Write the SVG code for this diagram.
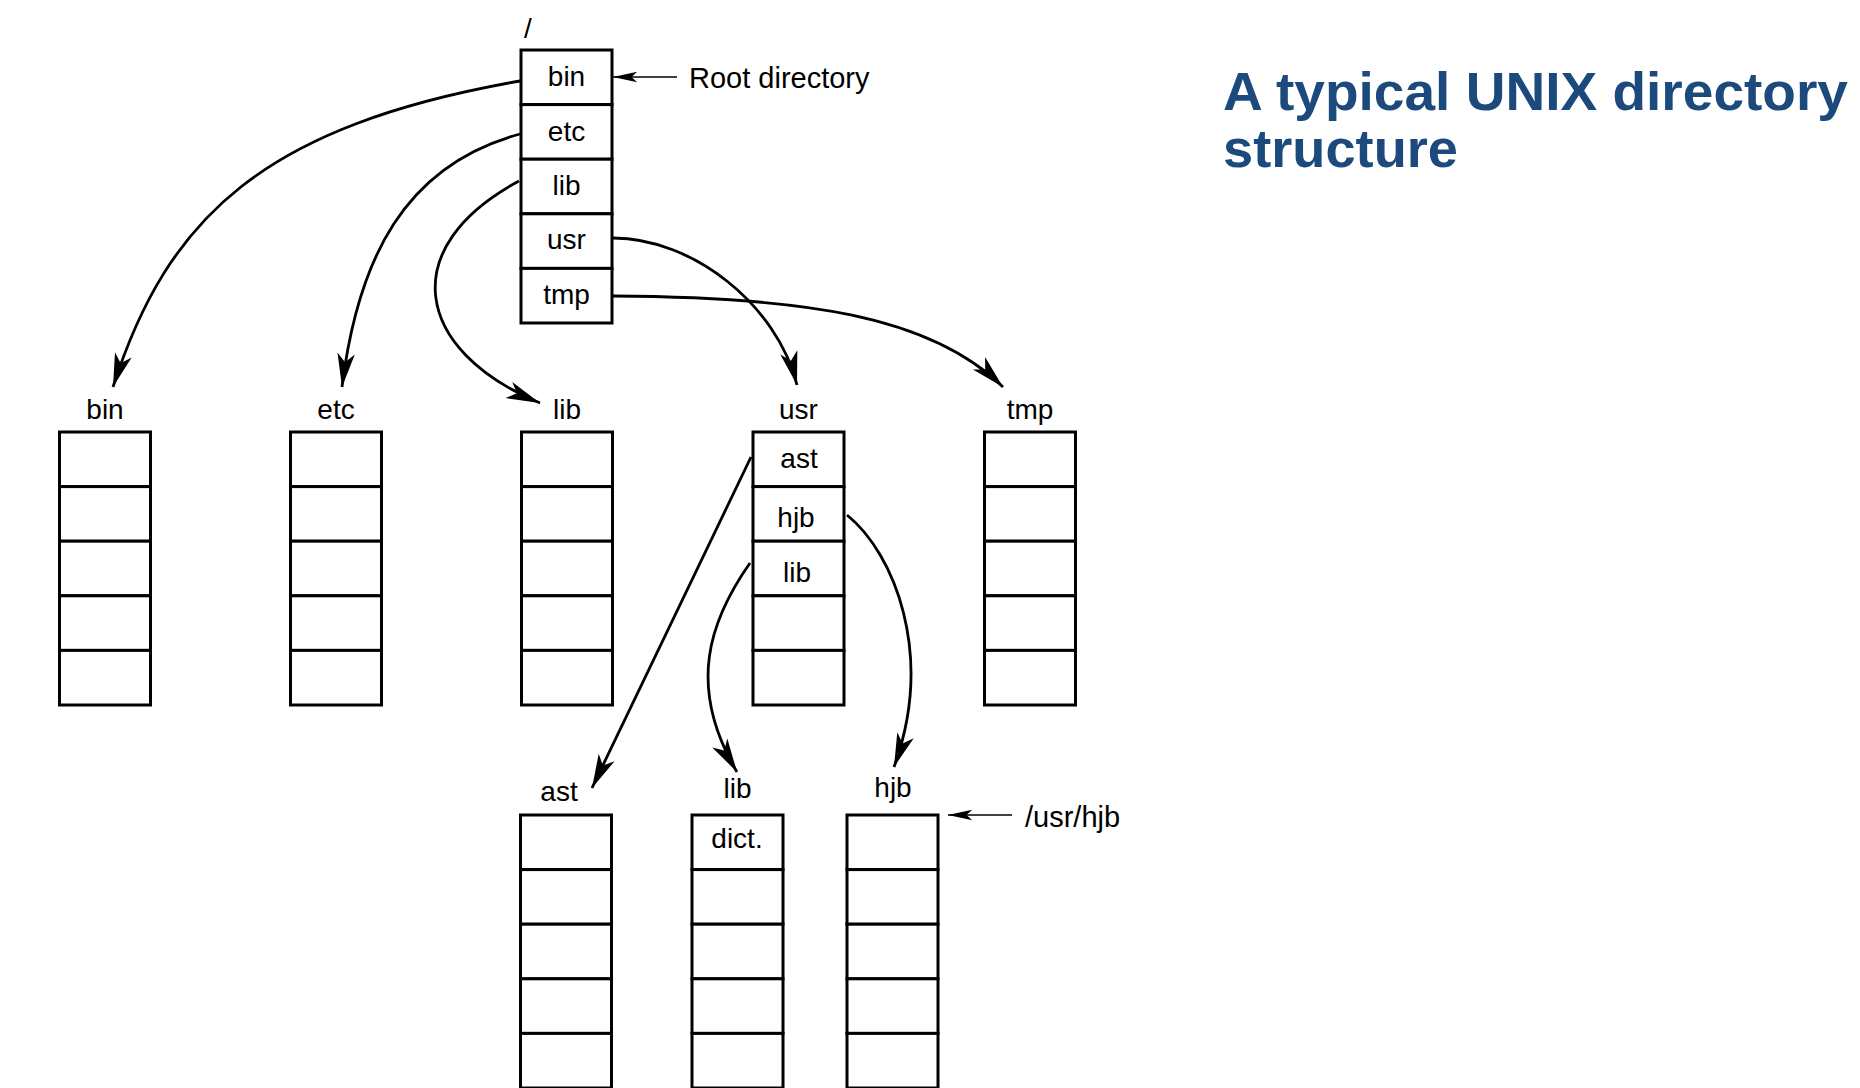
<svg xmlns="http://www.w3.org/2000/svg" width="1860" height="1088" viewBox="0 0 1860 1088">
  <defs>
    <style>
      .cell { fill: #ffffff; stroke: #000000; stroke-width: 3; }
      .lbl { font-family: "Liberation Sans", Arial, Helvetica, sans-serif; font-size: 28px; fill: #000000; text-anchor: middle; }
      .note { font-family: "Liberation Sans", Arial, Helvetica, sans-serif; font-size: 29px; fill: #000000; }
      .title { font-family: "Liberation Sans", Arial, Helvetica, sans-serif; font-size: 53px; font-weight: bold; fill: #1c4a7c; }
      .conn { fill: none; stroke: #000000; stroke-width: 2.8; }
      .thin { fill: none; stroke: #000000; stroke-width: 1.5; }
    </style>
    <marker id="big" markerUnits="userSpaceOnUse" markerWidth="40" markerHeight="40" viewBox="-30 -10 32 20" refX="0" refY="0" orient="auto">
      <path d="M0,0 L-27,-7 L-20,0 L-27,7 Z" fill="#000000"/>
    </marker>
    <marker id="small" markerUnits="userSpaceOnUse" markerWidth="30" markerHeight="20" viewBox="-24 -6 26 12" refX="0" refY="0" orient="auto">
      <path d="M0,0 L-21,-4.5 L-16,0 L-21,4.5 Z" fill="#000000"/>
    </marker>
  </defs>

  <rect x="0" y="0" width="1860" height="1088" fill="#ffffff"/>

  <g id="title">
    <text class="title" x="1223" y="110" textLength="625" lengthAdjust="spacingAndGlyphs">A typical UNIX directory</text>
    <text class="title" x="1223" y="167" textLength="235" lengthAdjust="spacingAndGlyphs">structure</text>
  </g>

  <g id="connectors">
    <path class="conn" d="M520,81 C264,126 168,216 113,387" marker-end="url(#big)"/>
    <path class="conn" d="M520,134 C405,165 358,258 342,387" marker-end="url(#big)"/>
    <path class="conn" d="M519,181 C396,247 413,350 540,403" marker-end="url(#big)"/>
    <path class="conn" d="M613,238 C693,238 777,305 797,385" marker-end="url(#big)"/>
    <path class="conn" d="M613,296 C800,297 930,315 1003,387" marker-end="url(#big)"/>
    <path class="conn" d="M751,457 L592,788" marker-end="url(#big)"/>
    <path class="conn" d="M750,563 C710,620 686,686 737,772" marker-end="url(#big)"/>
    <path class="conn" d="M847,515 C894,553 935,654 894,767" marker-end="url(#big)"/>
    <path class="thin" d="M677,77 L613,77" marker-end="url(#small)"/>
    <path class="thin" d="M1012,815 L948,815" marker-end="url(#small)"/>
  </g>

  <g id="root">
    <text class="lbl" x="528" y="38">/</text>
    <rect class="cell" x="521" y="50" width="91" height="54.6"/>
    <rect class="cell" x="521" y="104.6" width="91" height="54.6"/>
    <rect class="cell" x="521" y="159.2" width="91" height="54.6"/>
    <rect class="cell" x="521" y="213.8" width="91" height="54.6"/>
    <rect class="cell" x="521" y="268.4" width="91" height="54.6"/>
    <text class="lbl" x="566.5" y="86">bin</text>
    <text class="lbl" x="566.5" y="141">etc</text>
    <text class="lbl" x="566.5" y="195">lib</text>
    <text class="lbl" x="566.5" y="249">usr</text>
    <text class="lbl" x="566.5" y="304">tmp</text>
  </g>
  <g id="root-label">
    <text class="note" x="689" y="88">Root directory</text>
  </g>

  <g id="dir-bin">
    <text class="lbl" x="105" y="419">bin</text>
    <rect class="cell" x="59.5" y="432" width="91" height="54.6"/>
    <rect class="cell" x="59.5" y="486.6" width="91" height="54.6"/>
    <rect class="cell" x="59.5" y="541.2" width="91" height="54.6"/>
    <rect class="cell" x="59.5" y="595.8" width="91" height="54.6"/>
    <rect class="cell" x="59.5" y="650.4" width="91" height="54.6"/>
  </g>
  <g id="dir-etc">
    <text class="lbl" x="336" y="419">etc</text>
    <rect class="cell" x="290.5" y="432" width="91" height="54.6"/>
    <rect class="cell" x="290.5" y="486.6" width="91" height="54.6"/>
    <rect class="cell" x="290.5" y="541.2" width="91" height="54.6"/>
    <rect class="cell" x="290.5" y="595.8" width="91" height="54.6"/>
    <rect class="cell" x="290.5" y="650.4" width="91" height="54.6"/>
  </g>
  <g id="dir-lib">
    <text class="lbl" x="567" y="419">lib</text>
    <rect class="cell" x="521.5" y="432" width="91" height="54.6"/>
    <rect class="cell" x="521.5" y="486.6" width="91" height="54.6"/>
    <rect class="cell" x="521.5" y="541.2" width="91" height="54.6"/>
    <rect class="cell" x="521.5" y="595.8" width="91" height="54.6"/>
    <rect class="cell" x="521.5" y="650.4" width="91" height="54.6"/>
  </g>
  <g id="dir-usr">
    <text class="lbl" x="798.5" y="419">usr</text>
    <rect class="cell" x="753" y="432" width="91" height="54.6"/>
    <rect class="cell" x="753" y="486.6" width="91" height="54.6"/>
    <rect class="cell" x="753" y="541.2" width="91" height="54.6"/>
    <rect class="cell" x="753" y="595.8" width="91" height="54.6"/>
    <rect class="cell" x="753" y="650.4" width="91" height="54.6"/>
    <text class="lbl" x="799" y="468">ast</text>
    <text class="lbl" x="796" y="527">hjb</text>
    <text class="lbl" x="797" y="582">lib</text>
  </g>
  <g id="dir-tmp">
    <text class="lbl" x="1030" y="419">tmp</text>
    <rect class="cell" x="984.5" y="432" width="91" height="54.6"/>
    <rect class="cell" x="984.5" y="486.6" width="91" height="54.6"/>
    <rect class="cell" x="984.5" y="541.2" width="91" height="54.6"/>
    <rect class="cell" x="984.5" y="595.8" width="91" height="54.6"/>
    <rect class="cell" x="984.5" y="650.4" width="91" height="54.6"/>
  </g>

  <g id="dir-usr-ast">
    <text class="lbl" x="559" y="801">ast</text>
    <rect class="cell" x="520.5" y="815" width="91" height="54.6"/>
    <rect class="cell" x="520.5" y="869.6" width="91" height="54.6"/>
    <rect class="cell" x="520.5" y="924.2" width="91" height="54.6"/>
    <rect class="cell" x="520.5" y="978.8" width="91" height="54.6"/>
    <rect class="cell" x="520.5" y="1033.4" width="91" height="54.6"/>
  </g>
  <g id="dir-usr-lib">
    <text class="lbl" x="737.5" y="798">lib</text>
    <rect class="cell" x="692" y="815" width="91" height="54.6"/>
    <rect class="cell" x="692" y="869.6" width="91" height="54.6"/>
    <rect class="cell" x="692" y="924.2" width="91" height="54.6"/>
    <rect class="cell" x="692" y="978.8" width="91" height="54.6"/>
    <rect class="cell" x="692" y="1033.4" width="91" height="54.6"/>
    <text class="lbl" x="737" y="848">dict.</text>
  </g>
  <g id="dir-usr-hjb">
    <text class="lbl" x="893" y="797">hjb</text>
    <rect class="cell" x="847" y="815" width="91" height="54.6"/>
    <rect class="cell" x="847" y="869.6" width="91" height="54.6"/>
    <rect class="cell" x="847" y="924.2" width="91" height="54.6"/>
    <rect class="cell" x="847" y="978.8" width="91" height="54.6"/>
    <rect class="cell" x="847" y="1033.4" width="91" height="54.6"/>
  </g>
  <g id="hjb-label">
    <text class="note" x="1025" y="827">/usr/hjb</text>
  </g>
</svg>
